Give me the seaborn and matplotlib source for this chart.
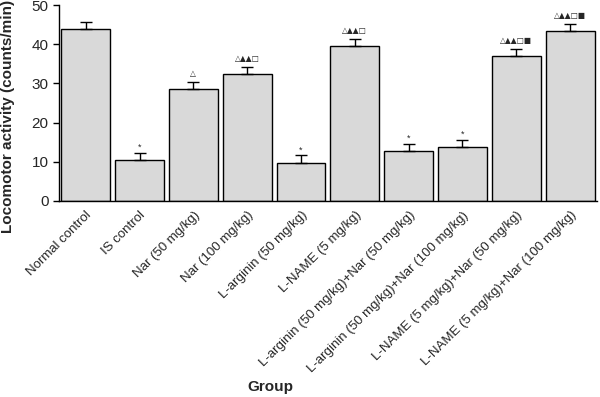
import numpy as np
import pandas as pd
import matplotlib
matplotlib.use('Agg')
import matplotlib.pyplot as plt
import seaborn as sns

groups = ['Normal control', 'IS control', 'Nar (50 mg/kg)', 'Nar (100 mg/kg)',
          'L-arginin (50 mg/kg)', 'L-NAME (5 mg/kg)',
          'L-arginin (50 mg/kg)+Nar (50 mg/kg)', 'L-arginin (50 mg/kg)+Nar (100 mg/kg)',
          'L-NAME (5 mg/kg)+Nar (50 mg/kg)', 'L-NAME (5 mg/kg)+Nar (100 mg/kg)']
activity = [43.9, 10.4, 28.5, 32.5, 9.8, 39.5, 12.8, 13.7, 36.9, 43.3]
sem = [1.8, 1.8, 1.8, 1.8, 1.8, 1.8, 1.7, 1.8, 1.8, 1.9]
marks = ['', '*', '△', '△▲▲□', '*', '△▲▲□', '*', '*', '△▲▲□■', '△▲▲□■']

df = pd.DataFrame({'Group': groups, 'Activity': activity})

sns.set_style('white')
plt.rcParams['font.family'] = ['Liberation Sans', 'DejaVu Sans']

fig = plt.figure(figsize=(6, 3.97), dpi=100)
ax = fig.add_axes([0.098, 0.494, 0.897, 0.493])

sns.barplot(data=df, x='Group', y='Activity', color='#d9d9d9', saturation=1,
            edgecolor='black', linewidth=1, width=0.91, errorbar=None, ax=ax)
x = np.arange(len(groups))
ax.errorbar(x, activity, yerr=[np.zeros(len(sem)), sem], fmt='none',
            ecolor='black', elinewidth=1, capsize=4.5, capthick=1)

for xi, y, e, m in zip(x, activity, sem, marks):
    if m == '*':
        ax.text(xi, y + e + 0.3, m, ha='center', va='bottom', fontsize=6.5)
    elif m:
        ax.text(xi, y + e + 1.0, m, ha='center', va='bottom', fontsize=5.5,
                family=['DejaVu Sans'])

ax.set_xlim(-0.5, len(groups) - 0.5)
ax.set_ylim(0, 50)
ax.set_yticks(range(0, 51, 10))
ax.set_xticks(x)
ax.set_xticklabels(groups, rotation=45, ha='right', rotation_mode='anchor', fontsize=9.5)
ax.set_xticks(np.arange(-0.5, len(groups), 1), minor=True)
ax.tick_params(axis='x', which='major', length=0, pad=6)
ax.tick_params(axis='x', which='minor', length=4, width=1, direction='out', color='black')
ax.tick_params(axis='y', length=4, width=1, direction='out', color='black', labelsize=11)
ax.tick_params(axis='both', bottom=True, left=True)

sns.despine(ax=ax)
for s in ['left', 'bottom']:
    ax.spines[s].set_color('black')
    ax.spines[s].set_linewidth(1)

ax.set_ylabel('Locomotor activity (counts/min)', fontsize=11, fontweight='bold')
ax.yaxis.set_label_coords(-0.081, 0.43)
ax.set_xlabel('')
fig.text(0.45, 0.025, 'Group', fontsize=11, fontweight='bold', ha='center', va='center')

fig.savefig('out.png', dpi=100)
